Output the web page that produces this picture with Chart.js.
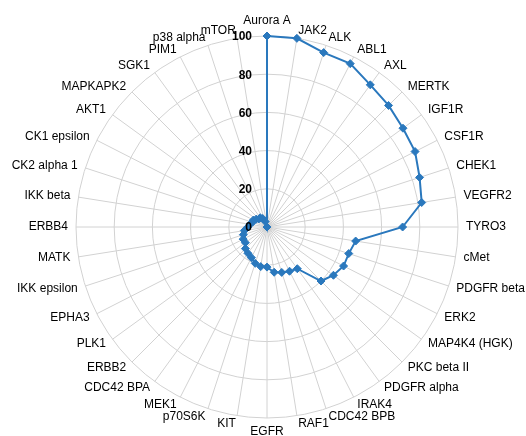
<!DOCTYPE html>
<html>
<head>
<meta charset="utf-8">
<script src="https://cdn.jsdelivr.net/npm/chart.js@4"></script>
<style>
  html, body { margin: 0; padding: 0; background: #ffffff; }
  #wrap { width: 526px; height: 436px; }
</style>
</head>
<body>
<div id="wrap"><canvas id="c" width="526" height="436"></canvas></div>
<script>
// Kinase panel: percent inhibition per kinase
const kinases = [
  'Aurora A', 'JAK2', 'ALK', 'ABL1', 'AXL', 'MERTK', 'IGF1R', 'CSF1R', 'CHEK1', 'VEGFR2',
  'TYRO3', 'cMet', 'PDGFR beta', 'ERK2', 'MAP4K4 (HGK)', 'PKC beta II', 'PDGFR alpha', 'IRAK4', 'CDC42 BPB', 'RAF1',
  'EGFR', 'KIT', 'p70S6K', 'MEK1', 'CDC42 BPA', 'ERBB2', 'PLK1', 'EPHA3', 'IKK epsilon', 'MATK',
  'ERBB4', 'IKK beta', 'CK2 alpha 1', 'CK1 epsilon', 'AKT1', 'MAPKAPK2', 'SGK1', 'PIM1', 'p38 alpha', 'mTOR'
];
const inhibition = [
  100, 100, 96, 96, 92, 90, 88, 87, 84, 82,
  71, 47, 45, 45, 43, 40, 27, 26, 25, 24,
  21, 21, 20, 18, 17, 16, 14, 14, 13, 12,
  10, 9, 8, 8, 7, 6, 6, 5, 3, 0
];
const tickValues = [0, 20, 40, 60, 80, 100];

const labelFont = '12px "Liberation Sans", Arial, sans-serif';
const tickFont = 'bold 12px "Liberation Sans", Arial, sans-serif';

// Category labels around the rim: centred vertically on their spoke,
// except the very top and bottom ones which sit above / below the circle
const spokeLabelPlugin = {
  id: 'spokeLabels',
  afterDraw(chart) {
    const r = chart.scales.r;
    const ctx = chart.ctx;
    const n = kinases.length;
    ctx.save();
    ctx.font = labelFont;
    ctx.fillStyle = '#000000';
    kinases.forEach((name, i) => {
      const deg = i * 360 / n;
      const p = r.getPointPosition(i, r.drawingArea + 8);
      let y = p.y;
      if (deg === 0) {
        ctx.textAlign = 'center';
        ctx.textBaseline = 'bottom';
        y -= 1;
      } else if (deg === 180) {
        ctx.textAlign = 'center';
        ctx.textBaseline = 'top';
      } else {
        ctx.textAlign = deg < 180 ? 'left' : 'right';
        ctx.textBaseline = 'middle';
      }
      ctx.fillText(name, p.x, y);
    });
    ctx.restore();
  }
};

// Radial tick labels, right-aligned just left of the vertical axis
const tickLabelPlugin = {
  id: 'tickLabels',
  afterDatasetsDraw(chart) {
    const r = chart.scales.r;
    const ctx = chart.ctx;
    ctx.save();
    ctx.font = tickFont;
    ctx.fillStyle = '#000000';
    ctx.textAlign = 'right';
    ctx.textBaseline = 'middle';
    tickValues.forEach(v => {
      const d = r.getDistanceFromCenterForValue(v);
      ctx.fillText(String(v), r.xCenter - 15, r.yCenter - d + 1);
    });
    ctx.restore();
  }
};

new Chart(document.getElementById('c'), {
  type: 'radar',
  data: {
    labels: kinases,
    datasets: [{
      data: inhibition,
      borderColor: '#2a78bd',
      backgroundColor: '#2a78bd',
      borderWidth: 2,
      fill: false,
      tension: 0,
      pointStyle: 'rectRot',
      pointRadius: 4,
      pointBackgroundColor: '#2a78bd',
      pointBorderColor: '#2a78bd',
      pointBorderWidth: 1
    }]
  },
  options: {
    responsive: false,
    animation: false,
    layout: { padding: { left: 40, right: 32, top: 36, bottom: 18 } },
    plugins: {
      legend: { display: false },
      tooltip: { enabled: false }
    },
    scales: {
      r: {
        min: 0,
        max: 100,
        ticks: { stepSize: 20, display: false },
        grid: { circular: true, color: '#d2d2d2', lineWidth: 1 },
        angleLines: { color: '#d2d2d2', lineWidth: 1 },
        pointLabels: { display: false }
      }
    }
  },
  plugins: [spokeLabelPlugin, tickLabelPlugin]
});
</script>
</body>
</html>
